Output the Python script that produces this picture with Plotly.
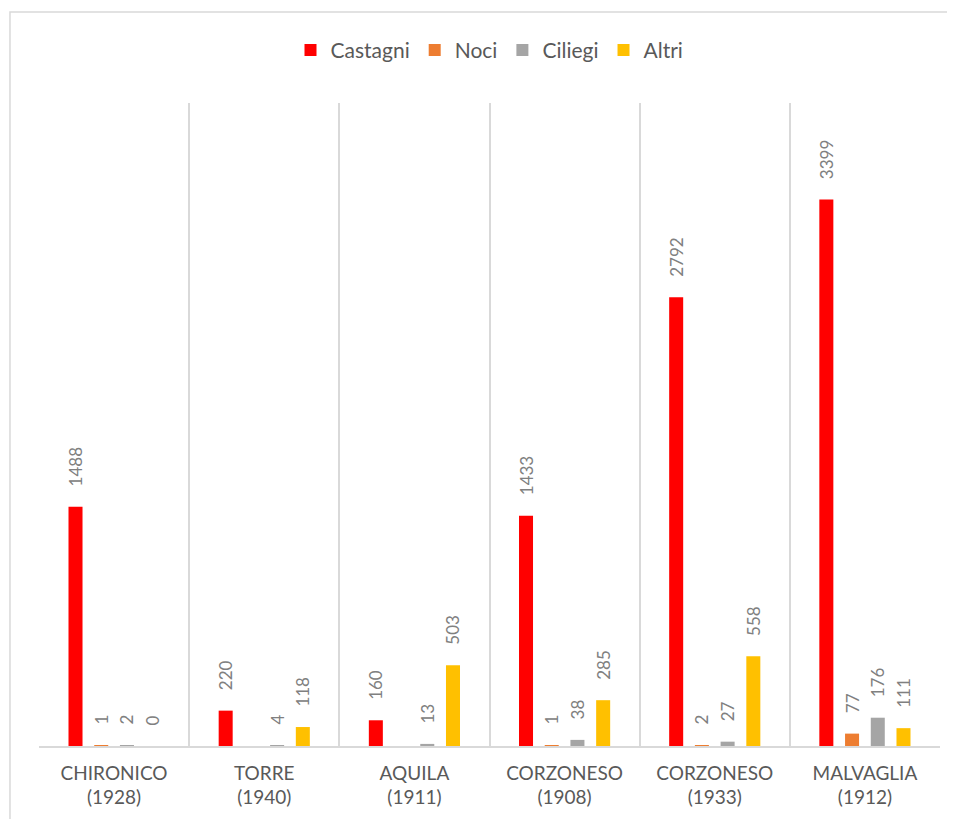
import plotly.graph_objects as go

categories = [
    "CHIRONICO<br>(1928)",
    "TORRE<br>(1940)",
    "AQUILA<br>(1911)",
    "CORZONESO<br>(1908)",
    "CORZONESO<br>(1933)",
    "MALVAGLIA<br>(1912)",
]
castagni = [1488, 220, 160, 1433, 2792, 3399]
noci = [1, None, None, 1, 2, 77]
ciliegi = [2, 4, 13, 38, 27, 176]
altri = [0, 118, 503, 285, 558, 111]

series = [
    ("Castagni", castagni, "#FF0000"),
    ("Noci", noci, "#ED7D31"),
    ("Ciliegi", ciliegi, "#A5A5A5"),
    ("Altri", altri, "#FFC000"),
]

FONT = "Lato"
GREY = "#595959"
LABEL_GREY = "#808080"
LINE = "#D9D9D9"

fig = go.Figure()
for name, values, color in series:
    fig.add_bar(
        name=name,
        x=categories,
        y=values,
        marker_color=color,
        marker_line_width=0,
        # leading spaces push the rotated label up off the bar
        texttemplate="    %{y}",
        textposition="outside",
        textangle=-90,
        constraintext="none",
        textfont=dict(family=FONT, size=17, color=LABEL_GREY),
        cliponaxis=False,
    )

# the page body adds an 8px margin, so the figure is 8px smaller
fig.update_layout(
    width=947,
    height=811,
    margin=dict(l=31, r=15, t=95, b=73),
    paper_bgcolor="white",
    plot_bgcolor="white",
    barmode="group",
    bargap=0.315,
    bargroupgap=0.455,
    font=dict(family=FONT, color=GREY),
    legend=dict(
        orientation="h",
        x=0.5,
        xanchor="center",
        y=1.082,
        yanchor="middle",
        font=dict(family=FONT, size=21, color=GREY),
        itemwidth=30,
    ),
    xaxis=dict(
        tickson="boundaries",
        showgrid=True,
        gridcolor=LINE,
        gridwidth=1.5,
        showline=True,
        linecolor=LINE,
        linewidth=1.5,
        ticks="",
        ticklabelstandoff=9,
        tickfont=dict(family=FONT, size=19, color=GREY),
    ),
    yaxis=dict(
        range=[0, 4000],
        showgrid=False,
        zeroline=False,
        showticklabels=False,
        ticks="",
    ),
    shapes=[
        dict(
            type="rect",
            xref="paper",
            yref="paper",
            x0=-0.0322,
            x1=1.05,
            y0=-0.2,
            y1=1.1415,
            line=dict(color=LINE, width=1.5),
            layer="below",
        )
    ],
)

fig.write_html("out.html")
